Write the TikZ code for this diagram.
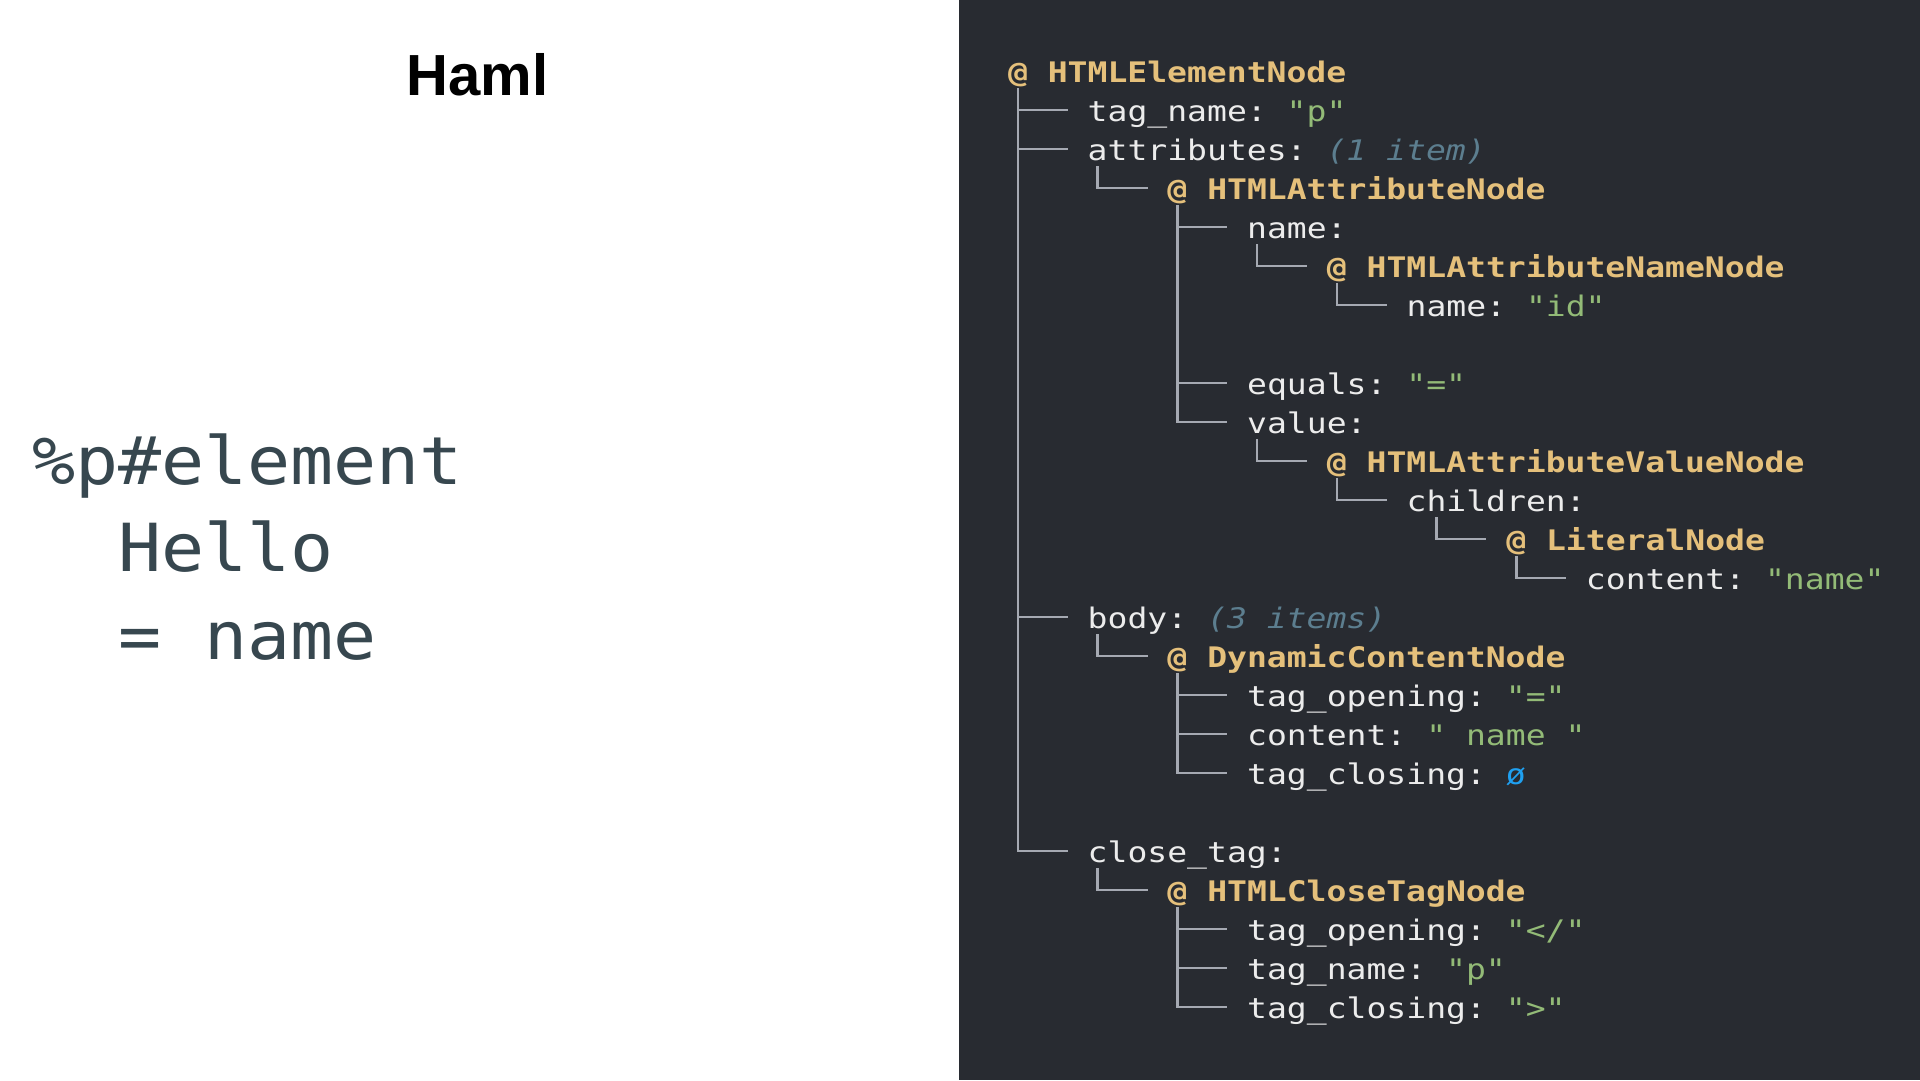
\documentclass[tikz,border=0pt]{standalone}
\usepackage{fontspec}
\usetikzlibrary{calc}
\newfontfamily\treefont[FakeStretch=1.168,BoldFont={DejaVu Sans Mono Bold},ItalicFont={DejaVu Sans Mono Oblique}]{DejaVu Sans Mono}
\newfontfamily\hamlfont[FakeStretch=1.08]{DejaVu Sans Mono}
\newfontfamily\titlefont{Liberation Sans}
\definecolor{panelbg}{HTML}{282B31}
\definecolor{keywhite}{HTML}{ECECEC}
\definecolor{nodegold}{HTML}{E5C07B}
\definecolor{strgreen}{HTML}{93BB77}
\definecolor{cntgrey}{HTML}{5C7E8F}
\definecolor{nullblue}{HTML}{1FA0F0}
\definecolor{treegrey}{HTML}{A5A9B2}
\definecolor{hamlslate}{HTML}{37474F}
\newcommand\str[1]{\textcolor{strgreen}{#1}}
\newcommand\cnt[1]{{\itshape\color{cntgrey}#1}}
\frenchspacing
\def\cw{19.93}
\def\lh{39}
\newcommand\treebranch[2]{%
  \path ($(#2.base west)+(-3.5*\cw,0)$) coordinate (tbx)
        ($(#1.base west)+(0,6)$) coordinate (tby)
        ($(#2.base west)+(-\cw,-11)$) coordinate (tbe);
  \draw[tree] (tbx |- tby) |- (tbe);
}
\tikzset{
  row/.style={anchor=base west,inner sep=0pt,outer sep=0pt,
    font={\treefont\frenchspacing\fontsize{28.3}{39}\selectfont},text=keywhite},
  nodename/.style={row,font={\treefont\frenchspacing\bfseries\fontsize{28.3}{39}\selectfont},text=nodegold},
  tree/.style={draw=treegrey,line width=2.6pt,line join=miter},
  hamlcode/.style={anchor=base west,inner sep=0pt,outer sep=0pt,
    font={\hamlfont\frenchspacing\fontsize{66.3}{88}\selectfont},text=hamlslate},
}
\begin{document}
\begin{tikzpicture}[x=1pt,y=-1pt]
\useasboundingbox (0,0) rectangle (1920,1080);
\fill[white] (0,0) rectangle (1920,1080);
\fill[panelbg] (959,0) rectangle (1920,1080);
% left side
\node[anchor=base,inner sep=0pt,font={\titlefont\bfseries\fontsize{58}{60}\selectfont},text=black] (title) at (477.5,95) {Haml};
\node[hamlcode] (l1) at (32,484) {\%p\#element};
\node[hamlcode] (l2) at (118,571.5) {Hello};
\node[hamlcode] (l3) at (118,659) {= name};
% tree
\coordinate (o) at (1008,82);
\node[nodename] (r0) at ($(o)+(0*\cw,0*\lh)$) {@ HTMLElementNode};
\node[row] (r1) at ($(o)+(4*\cw,1*\lh)$) {tag\_name: \str{"p"}};
\node[row] (r2) at ($(o)+(4*\cw,2*\lh)$) {attributes: \cnt{(1 item)}};
\node[nodename] (r3) at ($(o)+(8*\cw,3*\lh)$) {@ HTMLAttributeNode};
\node[row] (r4) at ($(o)+(12*\cw,4*\lh)$) {name:};
\node[nodename] (r5) at ($(o)+(16*\cw,5*\lh)$) {@ HTMLAttributeNameNode};
\node[row] (r6) at ($(o)+(20*\cw,6*\lh)$) {name: \str{"id"}};
\node[row] (r8) at ($(o)+(12*\cw,8*\lh)$) {equals: \str{"="}};
\node[row] (r9) at ($(o)+(12*\cw,9*\lh)$) {value:};
\node[nodename] (r10) at ($(o)+(16*\cw,10*\lh)$) {@ HTMLAttributeValueNode};
\node[row] (r11) at ($(o)+(20*\cw,11*\lh)$) {children:};
\node[nodename] (r12) at ($(o)+(25*\cw,12*\lh)$) {@ LiteralNode};
\node[row] (r13) at ($(o)+(29*\cw,13*\lh)$) {content: \str{"name"}};
\node[row] (r14) at ($(o)+(4*\cw,14*\lh)$) {body: \cnt{(3 items)}};
\node[nodename] (r15) at ($(o)+(8*\cw,15*\lh)$) {@ DynamicContentNode};
\node[row] (r16) at ($(o)+(12*\cw,16*\lh)$) {tag\_opening: \str{"="}};
\node[row] (r17) at ($(o)+(12*\cw,17*\lh)$) {content: \str{" name "}};
\node[row] (r18) at ($(o)+(12*\cw,18*\lh)$) {tag\_closing: \textcolor{nullblue}{ø}};
\node[row] (r20) at ($(o)+(4*\cw,20*\lh)$) {close\_tag:};
\node[nodename] (r21) at ($(o)+(8*\cw,21*\lh)$) {@ HTMLCloseTagNode};
\node[row] (r22) at ($(o)+(12*\cw,22*\lh)$) {tag\_opening: \str{"</"}};
\node[row] (r23) at ($(o)+(12*\cw,23*\lh)$) {tag\_name: \str{"p"}};
\node[row] (r24) at ($(o)+(12*\cw,24*\lh)$) {tag\_closing: \str{">"}};
% branches
\treebranch{r0}{r1}
\treebranch{r0}{r2}
\treebranch{r0}{r14}
\treebranch{r0}{r20}
\treebranch{r2}{r3}
\treebranch{r3}{r4}
\treebranch{r3}{r8}
\treebranch{r3}{r9}
\treebranch{r4}{r5}
\treebranch{r5}{r6}
\treebranch{r9}{r10}
\treebranch{r10}{r11}
\treebranch{r11}{r12}
\treebranch{r12}{r13}
\treebranch{r14}{r15}
\treebranch{r15}{r16}
\treebranch{r15}{r17}
\treebranch{r15}{r18}
\treebranch{r20}{r21}
\treebranch{r21}{r22}
\treebranch{r21}{r23}
\treebranch{r21}{r24}
\end{tikzpicture}
\end{document}
